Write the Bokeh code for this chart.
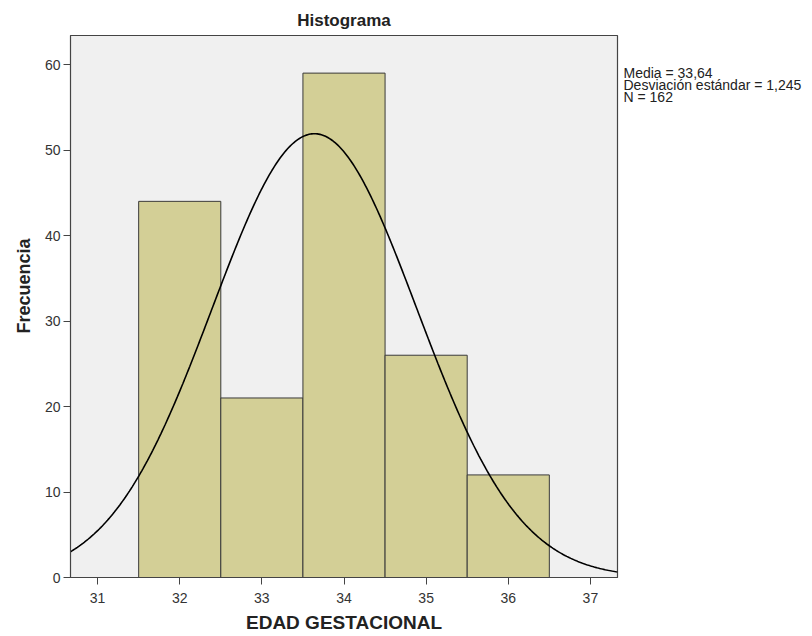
import numpy as np
from bokeh.plotting import figure
from bokeh.layouts import row
from bokeh.models import Label, Range1d, FixedTicker, Title
from bokeh.embed import file_html
from bokeh.resources import INLINE

# ---- data ----
bin_left = [31.5, 32.5, 33.5, 34.5, 35.5]
bin_right = [32.5, 33.5, 34.5, 35.5, 36.5]
counts = [44, 21, 59, 26, 12]
x_ticks = [31, 32, 33, 34, 35, 36, 37]
y_ticks = [0, 10, 20, 30, 40, 50, 60]
mean = 33.64
sd = 1.245
n = 162
bin_width = 1.0

x_min, x_max = 30.67, 37.33
y_min, y_max = 0, 63.4

FONT = "Liberation Sans"
H = 636
W_MAIN = 619
W_SIDE = 812 - W_MAIN
B_TOP, B_BOTTOM = 35, 59
FRAME_H = H - B_TOP - B_BOTTOM

p = figure(width=W_MAIN, height=H, x_range=Range1d(x_min, x_max), y_range=Range1d(y_min, y_max),
           output_backend="svg", toolbar_location=None,
           min_border_left=70, min_border_right=2, min_border_top=B_TOP, min_border_bottom=B_BOTTOM)

p.background_fill_color = "#F0F0F0"
p.border_fill_color = "white"
p.outline_line_color = "#444444"
p.outline_line_width = 1.2
p.xgrid.visible = False
p.ygrid.visible = False

p.title.text = "Histograma"
p.title.align = "center"
p.title.text_font = FONT
p.title.text_font_style = "bold"
p.title.text_font_size = "17px"
p.title.text_color = "#222222"
p.title.standoff = 12

p.quad(left=bin_left, right=bin_right, top=counts, bottom=0,
       fill_color="#D3CF96", line_color="#3a3a3a", line_width=1)

# fitted normal curve from mean, sd, N
xs = np.linspace(x_min, x_max, 400)
ys = n * bin_width / (sd * np.sqrt(2 * np.pi)) * np.exp(-0.5 * ((xs - mean) / sd) ** 2)
p.line(xs, ys, line_color="black", line_width=1.6)

for ax in (p.xaxis[0], p.yaxis[0]):
    ax.major_tick_in = 0
    ax.major_tick_out = 7
    ax.minor_tick_in = 0
    ax.minor_tick_out = 0
    ax.major_tick_line_color = "#444444"
    ax.axis_line_color = "#444444"
    ax.major_label_text_font = FONT
    ax.major_label_text_font_size = "14px"
    ax.major_label_text_color = "#333333"
    ax.axis_label_text_font = FONT
    ax.axis_label_text_font_style = "bold"
    ax.axis_label_text_color = "#222222"

p.xaxis.ticker = FixedTicker(ticks=x_ticks)
p.yaxis.ticker = FixedTicker(ticks=y_ticks)
p.xaxis.axis_label = "EDAD GESTACIONAL"
p.xaxis.axis_label_text_font_size = "19px"
p.xaxis.major_label_standoff = 8
p.yaxis.major_label_standoff = 3
p.xaxis.axis_label_standoff = 6

# y-axis title, placed slightly above the frame's centre as in the reference
p.add_layout(Title(text="Frecuencia", align="left", offset=244, standoff=15,
                   text_font=FONT, text_font_style="bold", text_font_size="18px",
                   text_color="#222222"), "left")

# side panel with the summary statistics (frame aligned with the main frame)
p2 = figure(width=W_SIDE, height=H, x_range=Range1d(0, W_SIDE), y_range=Range1d(0, FRAME_H),
            x_axis_type=None, y_axis_type=None, output_backend="svg", toolbar_location=None,
            title=None, min_border_left=0, min_border_right=0, min_border_top=B_TOP,
            min_border_bottom=B_BOTTOM)
p2.outline_line_color = None
p2.xgrid.visible = False
p2.ygrid.visible = False
p2.background_fill_color = "white"
p2.border_fill_color = "white"

stats = [
    "Media = " + f"{mean:.2f}".replace(".", ","),
    "Desviación estándar = " + f"{sd:.3f}".replace(".", ","),
    "N = " + str(n),
]
for i, s in enumerate(stats):
    p2.add_layout(Label(x=4, y=FRAME_H - (64 - B_TOP) - 12 * i, text=s,
                        text_align="left", text_baseline="top", text_font=FONT,
                        text_font_size="14px", text_color="#222222"))

layout = row(p, p2)
open("out.html", "w").write(file_html(layout, INLINE))
